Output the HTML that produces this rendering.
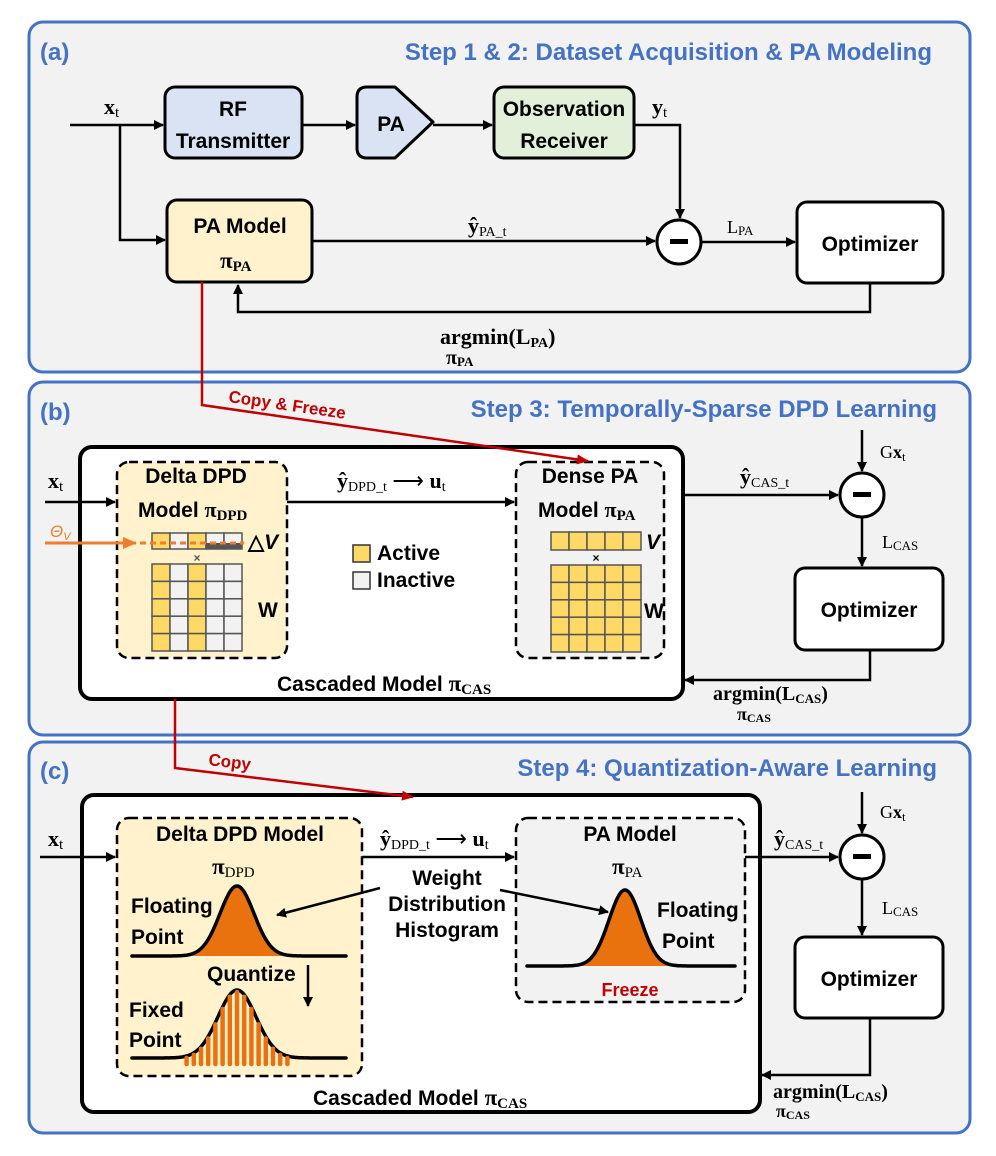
<!DOCTYPE html>
<html><head><meta charset="utf-8"><style>
html,body{margin:0;padding:0;background:#fff}
svg{display:block;font-family:"Liberation Sans",Arial,sans-serif}
.t{font-weight:bold;font-size:21px;fill:#000}
.s{font-family:"Liberation Serif",serif;font-weight:bold}
.sr{font-family:"Liberation Serif",serif}
.blue{fill:#4472C4;font-weight:bold;font-size:24px}
</style></head><body>
<svg width="996" height="1156" viewBox="0 0 996 1156" xmlns="http://www.w3.org/2000/svg">
<defs>
<marker id="a" markerWidth="10" markerHeight="10" refX="9" refY="5" orient="auto" markerUnits="userSpaceOnUse"><path d="M0,0 L10,5 L0,10 z" fill="#000"/></marker>
<marker id="r" markerWidth="12" markerHeight="10" refX="11" refY="5" orient="auto" markerUnits="userSpaceOnUse"><path d="M0,0 L12,5 L0,10 z" fill="#c00000"/></marker>
<marker id="o" markerWidth="14" markerHeight="12" refX="13" refY="6" orient="auto" markerUnits="userSpaceOnUse"><path d="M0,0 L14,6 L0,12 z" fill="#ED7D31"/></marker>
</defs>
<rect x="29" y="22" width="941" height="350" rx="14" fill="#f2f2f2" stroke="#4472C4" stroke-width="3"/>
<rect x="29" y="382" width="941" height="353" rx="14" fill="#f2f2f2" stroke="#4472C4" stroke-width="3"/>
<rect x="29" y="742" width="941" height="391" rx="14" fill="#f2f2f2" stroke="#4472C4" stroke-width="3"/>
<text x="40" y="60" class="blue">(a)</text>
<text x="932" y="60" class="blue" text-anchor="end">Step 1 &amp; 2: Dataset Acquisition &amp; PA Modeling</text>
<text x="40" y="420" class="blue">(b)</text>
<text x="937" y="417" class="blue" text-anchor="end">Step 3: Temporally-Sparse DPD Learning</text>
<text x="40" y="779" class="blue">(c)</text>
<text x="937" y="776" class="blue" text-anchor="end">Step 4: Quantization-Aware Learning</text>

<g stroke="#000" stroke-width="2.5" fill="none">
<path d="M70,125 H163" marker-end="url(#a)"/>
<path d="M120,125 V240 H165" marker-end="url(#a)"/>
<path d="M302,125 H355" marker-end="url(#a)"/>
<path d="M433,125 H492" marker-end="url(#a)"/>
<path d="M634,125 H680 V218" marker-end="url(#a)"/>
<path d="M312,241 H655" marker-end="url(#a)"/>
<path d="M701,242 H795" marker-end="url(#a)"/>
<path d="M870,283 V312 H238 V285" marker-end="url(#a)"/>
</g>
<rect x="165" y="87" width="137" height="71" rx="10" fill="#dae3f3" stroke="#000" stroke-width="3"/>
<path d="M367,87 H395 L433,122 L395,158 H367 Q357,158 357,148 V97 Q357,87 367,87 z" fill="#dae3f3" stroke="#000" stroke-width="3" stroke-linejoin="round"/>
<rect x="494" y="87" width="140" height="71" rx="10" fill="#e2efd9" stroke="#000" stroke-width="3"/>
<rect x="167" y="200" width="145" height="82" rx="10" fill="#fff2cc" stroke="#000" stroke-width="3"/>
<rect x="797" y="202" width="146" height="81" rx="10" fill="#fff" stroke="#000" stroke-width="3"/>
<circle cx="679" cy="242" r="22" fill="#fff" stroke="#000" stroke-width="3"/>
<rect x="670" y="239" width="18" height="5" fill="#000"/>
<text x="233" y="116" class="t" text-anchor="middle">RF</text>
<text x="233" y="148" class="t" text-anchor="middle">Transmitter</text>
<text x="391" y="131" class="t" text-anchor="middle">PA</text>
<text x="564" y="116" class="t" text-anchor="middle">Observation</text>
<text x="564" y="148" class="t" text-anchor="middle">Receiver</text>
<text x="240" y="233" class="t" text-anchor="middle">PA Model</text>
<text x="220" y="268" class="s" font-size="23">π<tspan font-size="15" dy="3">PA</tspan></text>
<text x="870" y="251" class="t" text-anchor="middle">Optimizer</text>
<text x="104" y="114" class="s" font-size="22">x<tspan font-size="15" font-weight="normal" dy="3">t</tspan></text>
<text x="652" y="114" class="s" font-size="22">y<tspan font-size="15" font-weight="normal" dy="3">t</tspan></text>
<text x="468" y="233" class="s" font-size="22">ŷ<tspan font-size="14" font-weight="normal" dy="3">PA_t</tspan></text>
<text x="727" y="233" class="sr" font-size="18">L<tspan font-size="13" dy="2">PA</tspan></text>
<text x="440" y="344" class="s" font-size="22">argmin(L<tspan font-size="14" dy="3">PA</tspan><tspan dy="-3">)</tspan></text>
<text x="446" y="364" class="s" font-size="20">π<tspan font-size="13" dy="2">PA</tspan></text>

<rect x="80" y="447" width="603" height="252" rx="12" fill="#fff" stroke="#000" stroke-width="4"/>
<rect x="117" y="462" width="170" height="196" rx="12" fill="#fff2cc" stroke="#000" stroke-width="2.5" stroke-dasharray="9,5"/>
<rect x="516" y="462" width="148" height="196" rx="12" fill="#f2f2f2" stroke="#000" stroke-width="2.5" stroke-dasharray="9,5"/>
<g stroke="#000" stroke-width="2.5" fill="none">
<path d="M45,502 H115" marker-end="url(#a)"/>
<path d="M287,502 H514" marker-end="url(#a)"/>
<path d="M683,495 H838" marker-end="url(#a)"/>
<path d="M862,430 V471" marker-end="url(#a)"/>
<path d="M862,517 V566" marker-end="url(#a)"/>
<path d="M870,650 V680 H685" marker-end="url(#a)"/>
</g>
<circle cx="862" cy="495" r="22" fill="#fff" stroke="#000" stroke-width="3"/>
<rect x="853" y="492" width="18" height="5" fill="#000"/>
<rect x="795" y="568" width="148" height="82" rx="10" fill="#fff" stroke="#000" stroke-width="3"/>
<text x="869" y="617" class="t" text-anchor="middle">Optimizer</text>
<text x="196" y="483" class="t" text-anchor="middle">Delta DPD</text>
<text x="138" y="517" class="t">Model <tspan class="s" font-size="22">π</tspan><tspan class="sr" font-size="15" dy="3">DPD</tspan></text>
<text x="590" y="483" class="t" text-anchor="middle">Dense PA</text>
<text x="538" y="517" class="t">Model <tspan class="s" font-size="22">π</tspan><tspan class="sr" font-size="15" dy="3">PA</tspan></text>
<text x="48" y="488" class="s" font-size="22">x<tspan font-size="15" font-weight="normal" dy="3">t</tspan></text>
<text x="337" y="488" class="s" font-size="22">ŷ<tspan font-size="14" font-weight="normal" dy="3">DPD_t</tspan><tspan dy="-3" font-weight="normal"> ⟶ </tspan>u<tspan font-size="14" font-weight="normal" dy="3">t</tspan></text>
<text x="740" y="484" class="s" font-size="22">ŷ<tspan font-size="14" font-weight="normal" dy="3">CAS_t</tspan></text>
<text x="880" y="458" class="sr" font-size="18">G<tspan font-weight="bold">x</tspan><tspan font-size="13" dy="3">t</tspan></text>
<text x="882" y="548" class="sr" font-size="18">L<tspan font-size="13" dy="2">CAS</tspan></text>
<text x="713" y="700" class="s" font-size="20">argmin(L<tspan font-size="13" dy="3">CAS</tspan><tspan dy="-3">)</tspan></text>
<text x="737" y="720" class="s" font-size="18">π<tspan font-size="12" dy="2">CAS</tspan></text>
<text x="277" y="691" class="t" font-size="20">Cascaded Model <tspan class="s" font-size="23">π</tspan><tspan class="sr" font-size="15" dy="3">CAS</tspan></text>
<g id="gridb" stroke="#555" stroke-width="1.5"></g>
<text x="197" y="562" font-size="12" fill="#555" text-anchor="middle" font-weight="bold">×</text>
<text x="596" y="562" font-size="12" fill="#000" text-anchor="middle" font-weight="bold">×</text>
<text x="248" y="549" class="t" font-size="19">△<tspan font-style="italic">V</tspan></text>
<text x="646" y="549" class="t" font-size="19" font-style="italic">V</text>
<text x="258" y="617" class="t" font-size="19">W</text>
<text x="644" y="618" class="t" font-size="19">W</text>
<rect x="353" y="545" width="17" height="17" fill="#ffd966" stroke="#333" stroke-width="1.5"/>
<rect x="353" y="572" width="17" height="17" fill="#f2f2f2" stroke="#333" stroke-width="1.5"/>
<text x="377" y="560" class="t" font-size="18">Active</text>
<text x="377" y="587" class="t" font-size="18">Inactive</text>
<path d="M45,543 H136" stroke="#ED7D31" stroke-width="3" marker-end="url(#o)"/>
<path d="M140,543 H244" stroke="#ED7D31" stroke-width="3" stroke-dasharray="6,4"/>
<text x="50" y="537" fill="#ED7D31" font-size="17" font-style="italic">Θ<tspan font-size="11" dy="3">V</tspan></text>
<path d="M202,282 V405 L588,461" stroke="#c00000" stroke-width="2.5" fill="none" marker-end="url(#r)"/>
<text x="228" y="402" fill="#c00000" font-weight="bold" font-size="17" transform="rotate(8.2 228 402)">Copy &amp; Freeze</text>

<rect x="82" y="795" width="678" height="317" rx="12" fill="#fff" stroke="#000" stroke-width="4"/>
<rect x="117" y="818" width="245" height="258" rx="12" fill="#fff2cc" stroke="#000" stroke-width="2.5" stroke-dasharray="9,5"/>
<rect x="516" y="818" width="229" height="184" rx="12" fill="#f2f2f2" stroke="#000" stroke-width="2.5" stroke-dasharray="9,5"/>
<path d="M175,699 V768 L413,797" stroke="#c00000" stroke-width="2.5" fill="none" marker-end="url(#r)"/>
<text x="208" y="765" fill="#c00000" font-weight="bold" font-size="17" transform="rotate(7 208 765)">Copy</text>
<g stroke="#000" stroke-width="2.5" fill="none">
<path d="M40,857 H115" marker-end="url(#a)"/>
<path d="M362,857 H514" marker-end="url(#a)"/>
<path d="M745,857 H838" marker-end="url(#a)"/>
<path d="M862,792 V833" marker-end="url(#a)"/>
<path d="M862,879 V935" marker-end="url(#a)"/>
<path d="M870,1018 V1075 H762" marker-end="url(#a)"/>
<path d="M380,888 L277,915" marker-end="url(#a)"/>
<path d="M500,890 L608,912" marker-end="url(#a)"/>
<path d="M308,965 V1006" marker-end="url(#a)"/>
</g>
<circle cx="862" cy="857" r="22" fill="#fff" stroke="#000" stroke-width="3"/>
<rect x="853" y="854" width="18" height="5" fill="#000"/>
<rect x="795" y="937" width="148" height="81" rx="10" fill="#fff" stroke="#000" stroke-width="3"/>
<text x="869" y="986" class="t" text-anchor="middle">Optimizer</text>
<text x="48" y="846" class="s" font-size="22">x<tspan font-size="15" font-weight="normal" dy="3">t</tspan></text>
<text x="380" y="846" class="s" font-size="22">ŷ<tspan font-size="14" font-weight="normal" dy="3">DPD_t</tspan><tspan dy="-3" font-weight="normal"> ⟶ </tspan>u<tspan font-size="14" font-weight="normal" dy="3">t</tspan></text>
<text x="774" y="846" class="s" font-size="22">ŷ<tspan font-size="14" font-weight="normal" dy="3">CAS_t</tspan></text>
<text x="880" y="818" class="sr" font-size="18">G<tspan font-weight="bold">x</tspan><tspan font-size="13" dy="3">t</tspan></text>
<text x="882" y="914" class="sr" font-size="18">L<tspan font-size="13" dy="2">CAS</tspan></text>
<text x="773" y="1098" class="s" font-size="20">argmin(L<tspan font-size="13" dy="3">CAS</tspan><tspan dy="-3">)</tspan></text>
<text x="776" y="1117" class="s" font-size="18">π<tspan font-size="12" dy="2">CAS</tspan></text>
<text x="313" y="1105" class="t" font-size="20">Cascaded Model <tspan class="s" font-size="23">π</tspan><tspan class="sr" font-size="15" dy="3">CAS</tspan></text>
<text x="240" y="841" class="t" text-anchor="middle">Delta DPD Model</text>
<text x="212" y="874" class="s" font-size="23">π<tspan class="sr" font-size="15" font-weight="normal" dy="3">DPD</tspan></text>
<text x="630" y="841" class="t" text-anchor="middle">PA Model</text>
<text x="612" y="874" class="s" font-size="23">π<tspan class="sr" font-size="15" font-weight="normal" dy="3">PA</tspan></text>
<text x="447" y="885" class="t" font-size="18" text-anchor="middle">Weight</text>
<text x="447" y="911" class="t" font-size="18" text-anchor="middle">Distribution</text>
<text x="447" y="937" class="t" font-size="18" text-anchor="middle">Histogram</text>
<text x="131" y="913" class="t" font-size="22">Floating</text>
<text x="131" y="944" class="t" font-size="22">Point</text>
<text x="657" y="917" class="t" font-size="22">Floating</text>
<text x="662" y="948" class="t" font-size="22">Point</text>
<text x="207" y="981" class="t" font-size="21">Quantize</text>
<text x="129" y="1017" class="t" font-size="21">Fixed</text>
<text x="129" y="1047" class="t" font-size="21">Point</text>
<text x="630" y="996" fill="#c00000" font-weight="bold" font-size="18" text-anchor="middle">Freeze</text>
<g id="gauss"></g>
<script>
(function(){
var NS="http://www.w3.org/2000/svg";
function el(p,t,a){var e=document.createElementNS(NS,t);for(var k in a)e.setAttribute(k,a[k]);p.appendChild(e);return e;}
var g=document.getElementById('gridb');
var Y="#ffd966",G="#f2f2f2";
for(var i=0;i<5;i++){
 var c=(i==0||i==2)?Y:G;
 el(g,'rect',{x:152+i*18,y:533,width:18,height:16,fill:c});
 el(g,'rect',{x:551+i*18,y:532,width:18,height:18,fill:Y});
 for(var j=0;j<5;j++){
  el(g,'rect',{x:152+i*18,y:564+j*17.4,width:18,height:17.4,fill:c});
  el(g,'rect',{x:551+i*18,y:565+j*17.4,width:18,height:17.4,fill:Y});
 }
}
el(g,'rect',{x:206,y:543,width:36,height:6,fill:"#555",stroke:"none"});
var gg=document.getElementById('gauss');
function gauss(x0,x1,cx,base,h,s,fill){
 var d="",f="M"+x0+","+base;
 for(var x=x0;x<=x1;x+=1){var y=base-h*Math.exp(-Math.pow((x-cx)/s,2)/2);d+=(x==x0?"M":"L")+x+","+y.toFixed(1);f+="L"+x+","+y.toFixed(1);}
 f+="L"+x1+","+base+"z";
 if(fill)el(gg,'path',{d:f,fill:"#E9720F"});
 el(gg,'path',{d:d,fill:"none",stroke:"#000","stroke-width":3.5,"stroke-linecap":"round"});
}
gauss(132,346,237,956,70,17,true);
gauss(527,735,625,966,76,16,true);
gauss(132,346,237,1058,68,19,false);
for(var k=-7;k<=7;k++){var x=237+k*7.2;var h=68*Math.exp(-Math.pow((x-237)/19,2)/2);
 el(gg,'line',{x1:x,y1:1064,x2:x,y2:1058-h+2,stroke:"#E9720F","stroke-width":4.5,"stroke-linecap":"round"});}
})();
</script>
</svg>
</body></html>
